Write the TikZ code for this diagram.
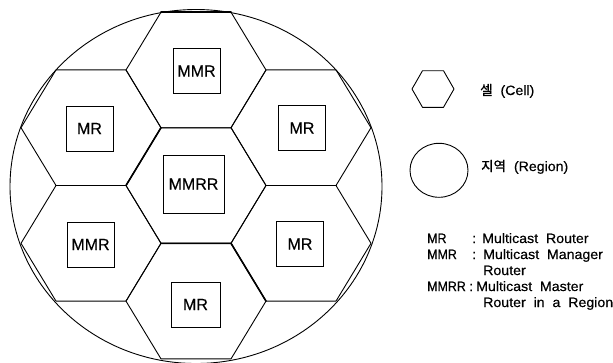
\documentclass[tikz,border=0pt]{standalone}
\usepackage{fontspec}
\setmainfont[FakeBold=0.4]{Liberation Sans}
\newfontfamily\legfont[FakeStretch=1.05,WordSpace=2,FakeBold=0.4]{Liberation Sans}
\newfontfamily\abbfont[FakeStretch=0.92,FakeBold=0.4]{Liberation Sans}
\newfontfamily\krfont[FakeBold=1.2]{Noto Sans CJK KR}
\begin{document}
\begin{tikzpicture}[x=1pt,y=-1pt,
  edge/.style={line width=0.9pt, line join=round},
  heavy/.style={line width=1.6pt, line cap=round},
  cellhex/.pic={\draw[edge] (-70,0) -- (-35,-57.8) -- (35,-57.8) -- (70,0) -- (35,57.8) -- (-35,57.8) -- cycle;},
  router/.style={draw, line width=0.9pt, inner sep=0pt, font=\fontsize{16}{16}\selectfont,
                 minimum width=47pt, minimum height=45pt},
  legtext/.style={anchor=base west, inner sep=0pt, font=\legfont\fontsize{13.5}{16}\selectfont},
  abbtext/.style={legtext, font=\abbfont\fontsize{13.5}{16}\selectfont}
]
\useasboundingbox (0,0) rectangle (613,362);

% region boundary
\draw[edge] (196,186.5) ellipse [x radius=186, y radius=177];

% seven cells
\pic at (196,185.5) {cellhex};
\pic at (196,70.0) {cellhex};
\pic at (91,127.7) {cellhex};
\pic at (301,127.7) {cellhex};
\pic at (91,243.3) {cellhex};
\pic at (301,243.3) {cellhex};
\pic at (196,301.1) {cellhex};

% heavier printed edges
\draw[heavy] (126,185.5) -- (161,127.7);
\draw[heavy] (161,243.3) -- (231,243.3) -- (266,301.1);
\draw[heavy] (266,185.5) -- (336,185.5);
\draw[heavy] (161,12.2) -- (231,12.2);

% routers
\node[router] (mmrTop) at (196.5,71) {MMR};
\node[router] (mrUL) at (89.5,128.5) {MR};
\node[router] (mrUR) at (302,128) {MR};
\node[router, minimum width=61pt, minimum height=58pt] (mmrr) at (193.5,184) {MMRR};
\node[router] (mmrLL) at (90.5,244.5) {MMR};
\node[router] (mrLR) at (300,244) {MR};
\node[router, minimum width=49pt] (mrB) at (195.5,304.5) {MR};

% legend symbols
\draw[edge, shift={(433,89)}] (-21,0) -- (-10.5,-18.3) -- (10.5,-18.3) -- (21,0) -- (10.5,18.3) -- (-10.5,18.3) -- cycle;
\node[legtext] (cellText) at (480,95) {{\krfont 셀} (Cell)};
\draw[edge] (439,170.3) ellipse [x radius=29, y radius=27];
\node[legtext] (regionText) at (481,171) {{\krfont 지역} (Region)};

% abbreviations
\node[abbtext] (kMR) at (427,243) {MR};
\node[legtext] (cMR) at (472,243) {:};
\node[legtext] (dMR) at (482,243) {Multicast Router};
\node[abbtext] (kMMR) at (427,259) {MMR};
\node[legtext] (cMMR) at (472,259) {:};
\node[legtext] (dMMR) at (483,259) {Multicast Manager};
\node[legtext] (dMMRb) at (483,275) {Router};
\node[abbtext] (kMMRR) at (427,291) {MMRR};
\node[legtext] (cMMRR) at (469,291) {:};
\node[legtext] (dMMRR) at (476,291) {Multicast Master};
\node[legtext] (dMMRRb) at (483,307) {Router in a Region};
\end{tikzpicture}
\end{document}
